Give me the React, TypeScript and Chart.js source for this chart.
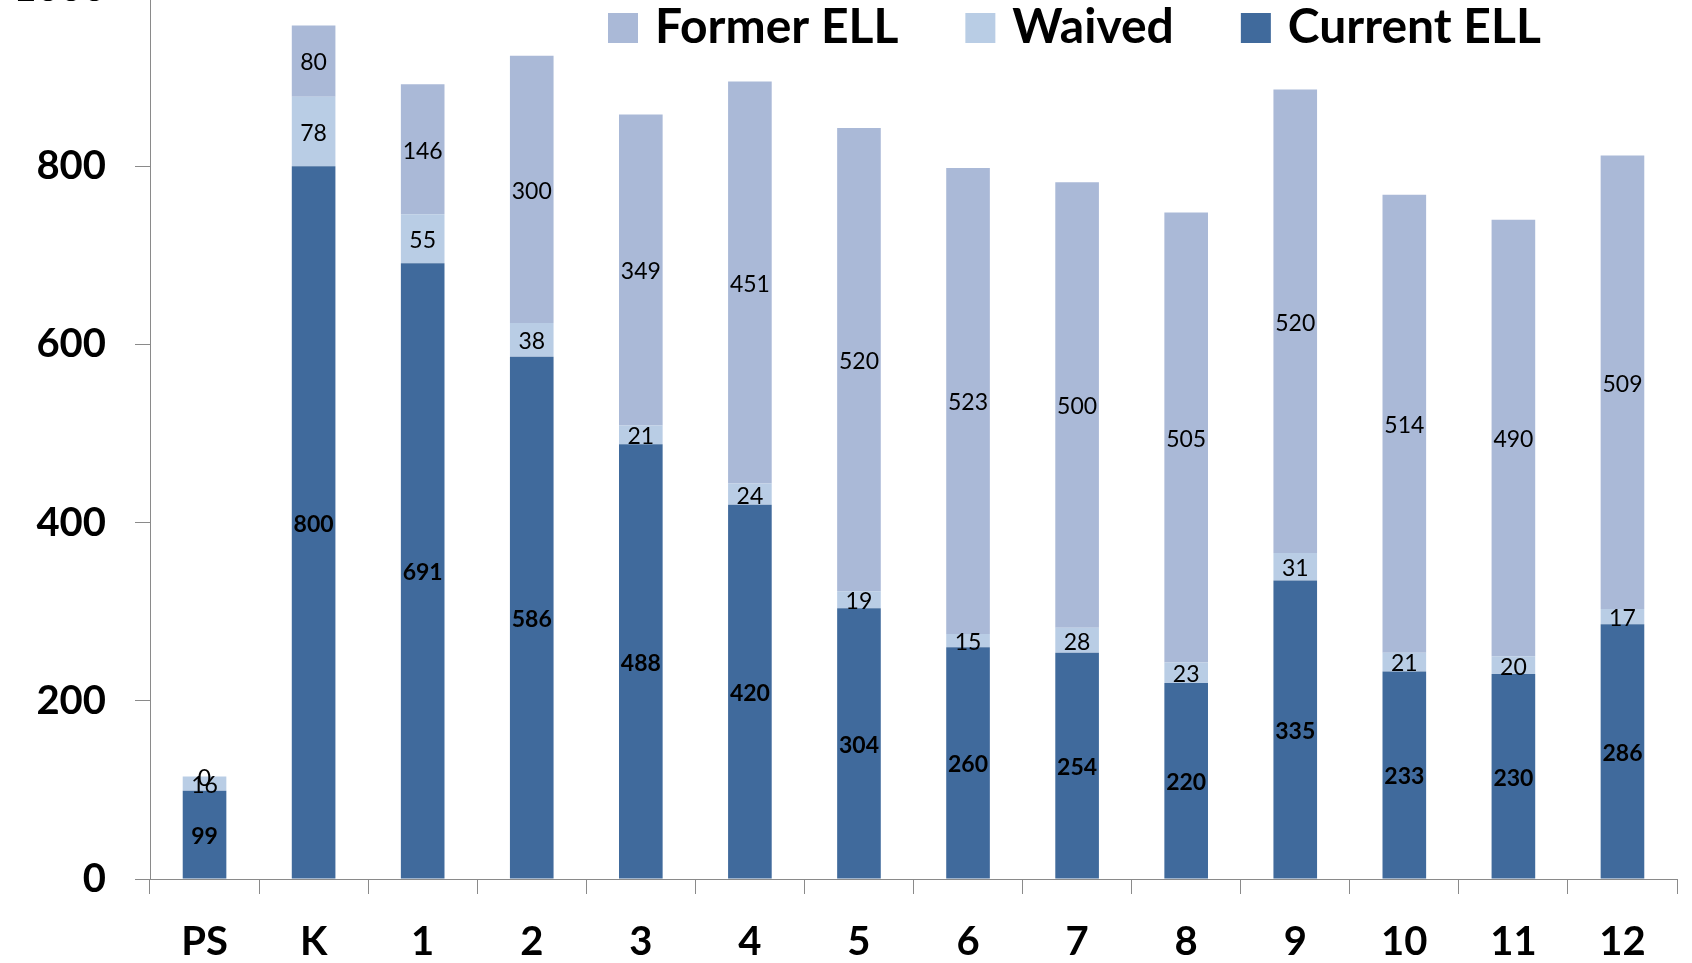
import React, { useEffect, useRef } from "react";
import { Chart, registerables } from "chart.js";

Chart.register(...registerables);

// ---- data ----
const categories = ["PS", "K", "1", "2", "3", "4", "5", "6", "7", "8", "9", "10", "11", "12"];
const currentELL = [99, 800, 691, 586, 488, 420, 304, 260, 254, 220, 335, 233, 230, 286];
const waived = [16, 78, 55, 38, 21, 24, 19, 15, 28, 23, 31, 21, 20, 17];
const formerELL = [0, 80, 146, 300, 349, 451, 520, 523, 500, 505, 520, 514, 490, 509];
const yTicks = [0, 200, 400, 600, 800, 1000];

// ---- layout / style ----
const OFFSET = 40; // chart's top (value 1000) is cut off in the reference
const W = 1692;
const H = 963 + OFFSET;
const FONT = "Lato";
const AXIS_GREY = "#8a8a8a";

const valueLabels = {
  id: "valueLabels",
  afterDatasetsDraw(chart: any, _args: any, opts: any) {
    const ctx = chart.ctx;
    ctx.save();
    ctx.textAlign = "center";
    ctx.textBaseline = "middle";
    ctx.fillStyle = "#000";
    chart.data.datasets.forEach((ds: any, i: number) => {
      const meta = chart.getDatasetMeta(i);
      const bold = (opts.boldLabels || []).includes(ds.label);
      ctx.font = `${bold ? "bold " : ""}${opts.size}px ${FONT}`;
      meta.data.forEach((bar: any, j: number) => {
        const p = bar.getProps(["x", "y", "base"], true);
        ctx.fillText(String(ds.data[j]), p.x, (p.y + p.base) / 2 + 2);
      });
    });
    ctx.restore();
  },
};

const topLegend = {
  id: "topLegend",
  afterDraw(chart: any, _args: any, opts: any) {
    const ctx = chart.ctx;
    ctx.save();
    ctx.font = `bold ${opts.size}px ${FONT}`;
    ctx.textBaseline = "alphabetic";
    ctx.textAlign = "left";
    let x = opts.x;
    const items = [...chart.data.datasets].reverse();
    items.forEach((ds: any) => {
      ctx.fillStyle = ds.backgroundColor;
      ctx.fillRect(x, opts.boxTop, opts.box, opts.box);
      x += opts.box + opts.gap;
      ctx.fillStyle = "#000";
      ctx.fillText(ds.label, x, opts.baseline);
      x += ctx.measureText(ds.label).width + opts.itemGap;
    });
    ctx.restore();
  },
};

export default function App() {
  const ref = useRef<HTMLCanvasElement | null>(null);

  useEffect(() => {
    if (!ref.current) return;
    const chart = new Chart(ref.current, {
      type: "bar",
      data: {
        labels: categories,
        datasets: [
          { label: "Current ELL", data: currentELL, backgroundColor: "#406A9C", borderWidth: 0 },
          { label: "Waived", data: waived, backgroundColor: "#B9CDE5", borderWidth: 0 },
          { label: "Former ELL", data: formerELL, backgroundColor: "#AAB9D7", borderWidth: 0 },
        ],
      },
      plugins: [valueLabels, topLegend],
      options: {
        responsive: false,
        animation: false,
        devicePixelRatio: 1,
        datasets: { bar: { categoryPercentage: 1, barPercentage: 0.4 } },
        layout: { padding: { top: 28, right: 15, left: 0, bottom: 0 } },
        plugins: {
          legend: { display: false },
          tooltip: { enabled: false },
          valueLabels: { size: 23, boldLabels: ["Current ELL"] },
          topLegend: { x: 608, boxTop: 13 + OFFSET, box: 30, gap: 17, baseline: 43 + OFFSET, itemGap: 67, size: 48 },
        } as any,
        scales: {
          x: {
            stacked: true,
            offset: true,
            grid: {
              offset: true,
              drawOnChartArea: false,
              drawTicks: true,
              tickLength: 15,
              color: AXIS_GREY,
              lineWidth: 1,
            },
            border: { display: true, color: AXIS_GREY, width: 1 },
            ticks: {
              color: "#000",
              font: { family: FONT, size: 40, weight: "bold" },
              padding: 24,
              maxRotation: 0,
              autoSkip: false,
            },
            afterFit: (s: any) => {
              s.height = 84;
              s.paddingLeft = 0;
              s.paddingRight = 0;
            },
          },
          y: {
            stacked: true,
            min: 0,
            max: 1000,
            afterBuildTicks: (s: any) => {
              s.ticks = yTicks.map((v) => ({ value: v }));
            },
            grid: {
              drawOnChartArea: false,
              drawTicks: true,
              tickLength: 15,
              color: AXIS_GREY,
              lineWidth: 1,
            },
            border: { display: true, color: AXIS_GREY, width: 1 },
            ticks: {
              color: "#000",
              font: { family: FONT, size: 40, weight: "bold" },
              padding: 29,
              callback: (v: any) => String(v),
            },
            afterFit: (s: any) => {
              s.width = 150;
              s.paddingTop = 0;
              s.paddingBottom = 0;
            },
          },
        },
      } as any,
    });
    return () => chart.destroy();
  }, []);

  return (
    <div style={{ position: "fixed", left: 0, top: -OFFSET, width: W, height: H, background: "#fff" }}>
      <canvas ref={ref} width={W} height={H} style={{ display: "block", width: W, height: H }} />
    </div>
  );
}
